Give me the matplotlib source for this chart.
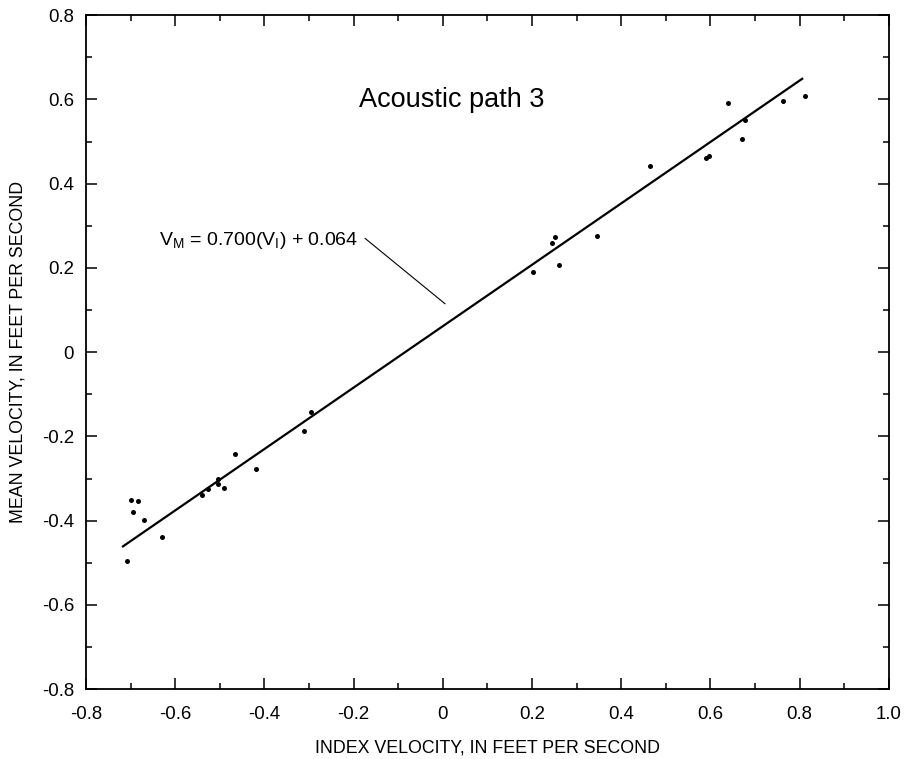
import matplotlib
matplotlib.use('Agg')
import matplotlib.pyplot as plt
from matplotlib.ticker import MultipleLocator

plt.rcParams['font.family'] = ['Liberation Sans', 'DejaVu Sans']
plt.rcParams['axes.unicode_minus'] = False
plt.rcParams['mathtext.fontset'] = 'custom'
plt.rcParams['mathtext.rm'] = 'Liberation Sans'

# index velocity (x) vs mean velocity (y), ft/s
index_vel = [-0.707, -0.700, -0.694, -0.683, -0.670, -0.630, -0.540, -0.526,
             -0.504, -0.504, -0.490, -0.466, -0.419, -0.311, -0.296,
             0.203, 0.244, 0.251, 0.261, 0.346,
             0.465, 0.590, 0.597, 0.639, 0.671, 0.677, 0.763, 0.813]
mean_vel = [-0.495, -0.350, -0.380, -0.354, -0.399, -0.438, -0.339, -0.325,
            -0.302, -0.312, -0.322, -0.241, -0.277, -0.186, -0.141,
            0.191, 0.260, 0.274, 0.206, 0.276,
            0.442, 0.460, 0.466, 0.592, 0.505, 0.550, 0.597, 0.609]

# regression line end points
fit_x = [-0.717, 0.806]
fit_y = [-0.461, 0.649]

x_ticks = [-0.8, -0.6, -0.4, -0.2, 0, 0.2, 0.4, 0.6, 0.8, 1.0]
x_labels = ['-0.8', '-0.6', '-0.4', '-0.2', '0', '0.2', '0.4', '0.6', '0.8', '1.0']
y_ticks = [-0.8, -0.6, -0.4, -0.2, 0, 0.2, 0.4, 0.6, 0.8]
y_labels = ['-0.8', '-0.6', '-0.4', '-0.2', '0', '0.2', '0.4', '0.6', '0.8']

fig = plt.figure(figsize=(9.05, 7.59), dpi=100)
ax = fig.add_axes([0.095, 0.092, 0.887, 0.888])

ax.plot(fit_x, fit_y, color='black', lw=1.6)
ax.plot(index_vel, mean_vel, 'o', color='black', ms=3.6, mew=0)

ax.set_xlim(-0.8, 1.0)
ax.set_ylim(-0.8, 0.8)
ax.set_xticks(x_ticks)
ax.set_xticklabels(x_labels)
ax.set_yticks(y_ticks)
ax.set_yticklabels(y_labels)
ax.xaxis.set_minor_locator(MultipleLocator(0.1))
ax.yaxis.set_minor_locator(MultipleLocator(0.1))
ax.tick_params(which='both', direction='in', top=True, right=True, width=1.1)
ax.tick_params(which='major', length=8, labelsize=13.4)
ax.tick_params(which='minor', length=4.3)
ax.tick_params(axis='x', which='major', pad=12)
ax.tick_params(axis='y', which='major', pad=8.5)
for s in ax.spines.values():
    s.set_linewidth(1.3)

ax.set_xlabel('INDEX VELOCITY, IN FEET PER SECOND', fontsize=12.8, labelpad=12)
ax.set_ylabel('MEAN VELOCITY, IN FEET PER SECOND', fontsize=12.8, labelpad=11)

ax.text(0.02, 0.599, 'Acoustic path 3', fontsize=19.5, ha='center', va='center')
ax.text(-0.413, 0.265, r'V$_\mathregular{M}$ = 0.700(V$_\mathregular{I}$) + 0.064',
        fontsize=14, ha='center', va='center')
ax.plot([-0.174, 0.005], [0.270, 0.115], color='black', lw=0.8)

fig.savefig('out.png', dpi=100)
